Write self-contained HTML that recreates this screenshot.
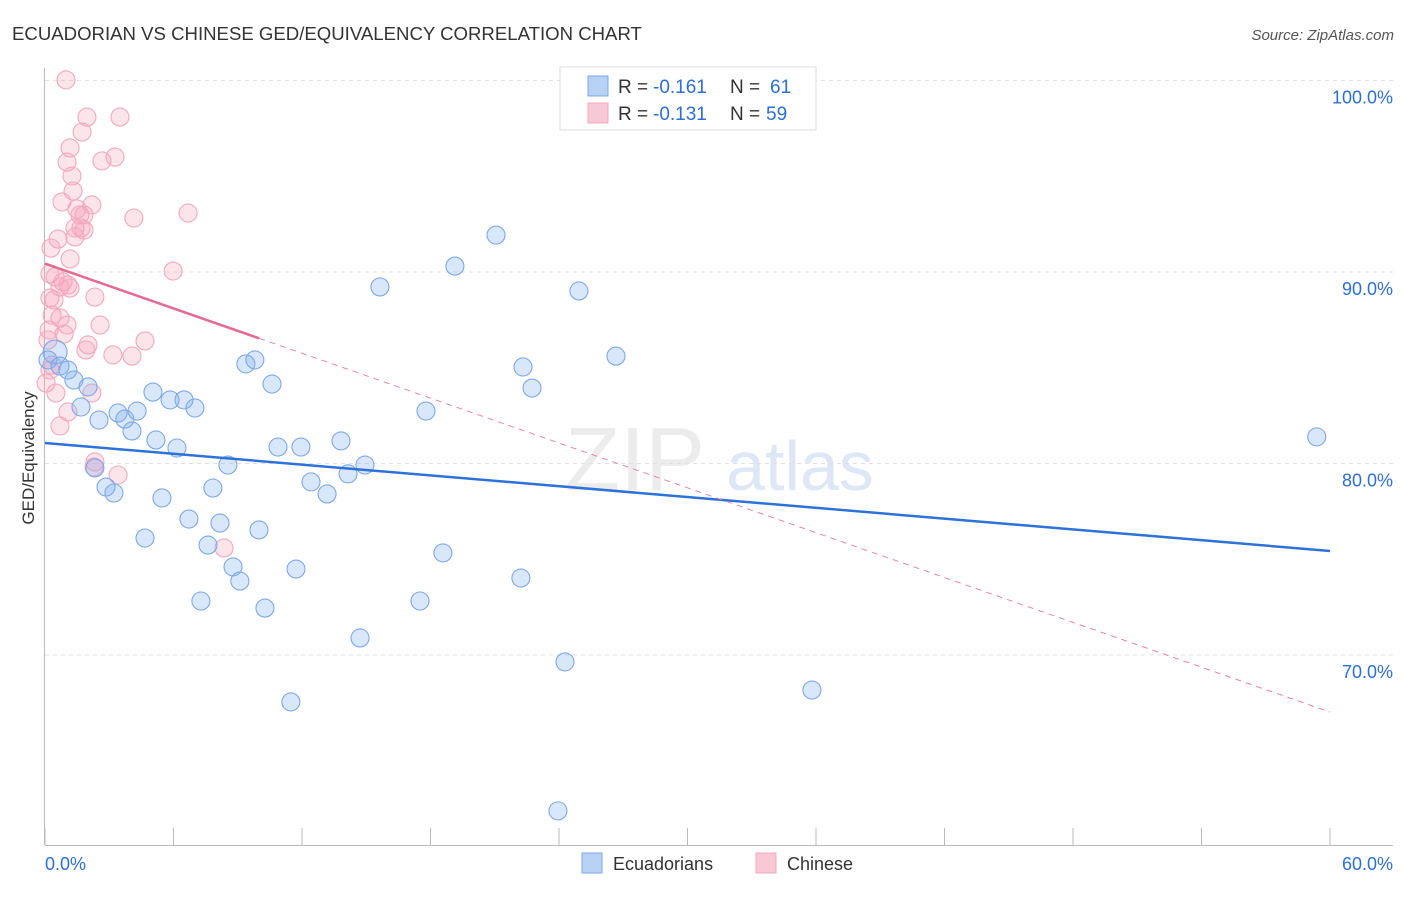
<!DOCTYPE html>
<html><head><meta charset="utf-8"><style>
body{margin:0;background:#fff;font-family:"Liberation Sans",sans-serif}
svg text{font-family:"Liberation Sans",sans-serif}
</style></head><body>
<svg id="c" width="1406" height="892" xmlns="http://www.w3.org/2000/svg">
<text x="12" y="40" font-size="18.6" fill="#333">ECUADORIAN VS CHINESE GED/EQUIVALENCY CORRELATION CHART</text>
<text x="1394" y="40" font-size="15" fill="#555" text-anchor="end" font-style="italic">Source: ZipAtlas.com</text>
<g><text x="635" y="490" font-size="90" fill="#ececec" text-anchor="middle" font-family="Liberation Serif">ZIP</text><text x="800" y="490" font-size="70" fill="#dde7f5" text-anchor="middle">atlas</text></g>
<g id="grid"></g><g id="axes"></g><g id="pts"></g><g id="lines"></g>
<text transform="translate(34,458) rotate(-90)" font-size="17" fill="#333" text-anchor="middle">GED/Equivalency</text>
<g>
<rect x="560" y="67" width="256" height="63" fill="#fff" stroke="#ddd"/>
<rect x="588" y="76" width="20" height="20" fill="#b8d2f5" stroke="#7ea8e6"/>
<text x="618" y="93" font-size="19" fill="#333">R =</text><text x="653" y="93" font-size="19" fill="#2d6fd6">-0.161</text>
<text x="730" y="93" font-size="19" fill="#333">N =</text><text x="770" y="93" font-size="19" fill="#2d6fd6">61</text>
<rect x="588" y="103" width="20" height="20" fill="#f8c8d6" stroke="#f2a9bf"/>
<text x="618" y="120" font-size="19" fill="#333">R =</text><text x="653" y="120" font-size="19" fill="#2d6fd6">-0.131</text>
<text x="730" y="120" font-size="19" fill="#333">N =</text><text x="766" y="120" font-size="19" fill="#2d6fd6">59</text>
</g>
<g>
<rect x="582" y="853" width="20" height="20" fill="#b8d2f5" stroke="#7ea8e6"/>
<text x="613" y="870" font-size="18" fill="#333">Ecuadorians</text>
<rect x="756" y="853" width="20" height="20" fill="#f8c8d6" stroke="#f2a9bf"/>
<text x="787" y="870" font-size="18" fill="#333">Chinese</text>
</g>
</svg>
<script>
const yTicks=[100,90,80,70];
const yTickLabels=["100.0%","90.0%","80.0%","70.0%"];
const blueX=[.47,.14,.70,1.07,1.35,2.01,1.68,2.52,2.33,2.85,3.22,3.41,3.73,4.06,4.30,4.67,5.04,5.18,5.46,5.84,6.16,6.49,6.72,7.00,7.28,7.61,7.84,8.17,8.54,8.78,9.10,9.38,9.80,9.99,10.27,10.60,10.88,11.48,11.72,11.95,12.42,13.17,13.82,14.15,14.71,14.94,15.64,17.51,17.79,18.58,19.14,21.06,22.22,22.32,22.74,23.95,24.28,24.93,26.66,35.81,59.38];
const blueY=[85.82,85.41,85.09,84.88,84.36,84.00,82.95,82.27,79.77,78.77,78.46,82.64,82.32,81.70,82.74,76.11,83.73,81.23,78.20,83.32,80.81,83.32,77.10,82.90,72.82,75.74,78.72,76.89,79.92,74.60,73.86,85.20,85.41,76.53,72.45,84.15,80.86,67.55,74.49,80.86,79.04,78.41,81.18,79.46,70.89,79.92,89.22,72.82,82.74,75.33,90.31,91.93,74.02,85.04,83.94,61.86,69.64,89.01,85.61,68.17,81.39];
const pinkX=[.98,1.96,3.50,1.73,1.17,1.03,2.66,3.27,1.26,1.31,.79,2.19,1.49,1.63,1.82,4.15,6.68,1.40,1.68,1.82,.61,1.40,.28,1.17,5.98,.23,.47,.84,1.07,.70,1.17,2.33,.23,.42,.33,.70,1.03,2.57,.19,.89,2.01,1.91,3.17,4.06,4.67,.23,.51,2.19,1.07,.70,2.33,2.29,3.41,8.36,.05,.33,.14];
const pinkY=[100.03,98.09,98.09,97.31,96.48,95.74,95.80,96.00,95.01,94.23,93.66,93.50,93.29,92.98,92.98,92.82,93.08,92.30,92.30,92.19,91.72,91.83,91.25,90.68,90.05,89.90,89.74,89.48,89.32,89.22,89.16,88.69,88.64,88.54,87.75,87.60,87.23,87.23,86.97,86.76,86.19,85.93,85.67,85.61,86.40,84.88,83.68,83.68,82.69,81.96,80.08,79.82,79.40,75.59,84.20,85.14,86.45];
const blueTrend=[81.07,75.43];
const pinkTrend=[90.44,67.02];
const X=v=>45+v*1285/60, Y=v=>80.5+(100-v)*19.15;
const NS="http://www.w3.org/2000/svg";
function mk(p,t,a){const e=document.createElementNS(NS,t);for(const k in a)e.setAttribute(k,a[k]);p.appendChild(e);return e;}
const grid=document.getElementById('grid'),axes=document.getElementById('axes'),pts=document.getElementById('pts'),lines=document.getElementById('lines');
yTicks.forEach((t,i)=>{
const l=mk(grid,'line',{x1:45,x2:1393,y1:Y(t),y2:Y(t),stroke:'#e0e0e0','stroke-dasharray':'4,4'});


const tx=mk(axes,'text',{x:1393,y:Y(t)+23,'font-size':18,fill:'#2d6fd6','text-anchor':'end'});
tx.textContent=yTickLabels[i];


});
const xa=mk(axes,'line',{x1:45,x2:1393,y1:845.5,y2:845.5,stroke:'#bbb'});


const ya=mk(axes,'line',{x1:44.5,x2:44.5,y1:68,y2:845,stroke:'#bbb'});


for(let i=0;i<=10;i++){const tk=mk(axes,'line',{x1:X(i*6),x2:X(i*6),y1:828,y2:845,stroke:'#bbb'});

}
[["0.0%",45,'start'],["60.0%",1393,'end']].forEach(a=>{const t=mk(axes,'text',{x:a[1],y:870,'font-size':18,fill:'#2d6fd6','text-anchor':a[2]});t.textContent=a[0];

});
pinkX.forEach((x,i)=>{const c=mk(pts,'circle',{cx:X(x),cy:Y(pinkY[i]),r:9,fill:'rgba(245,165,190,0.3)',stroke:'#f2a9bf','stroke-width':1.1});

});
blueX.forEach((x,i)=>{const c=mk(pts,'circle',{cx:X(x),cy:Y(blueY[i]),r:i==0?12:9,fill:'rgba(130,175,240,0.3)',stroke:'#7ea8e6','stroke-width':1.1});

});
const bl=mk(lines,'line',{x1:X(0),y1:Y(blueTrend[0]),x2:X(60),y2:Y(blueTrend[1]),stroke:'#2d72d9','stroke-width':2.5});


const pv=x=>pinkTrend[0]+(pinkTrend[1]-pinkTrend[0])*x/60;
const pd=mk(lines,'line',{x1:X(10),y1:Y(pv(10)),x2:X(60),y2:Y(pv(60)),stroke:'#e8809f','stroke-width':1,'stroke-dasharray':'6,5'});


const ps=mk(lines,'line',{x1:X(0),y1:Y(pv(0)),x2:X(10),y2:Y(pv(10)),stroke:'#e46a92','stroke-width':2.5});


</script>
</body></html>
